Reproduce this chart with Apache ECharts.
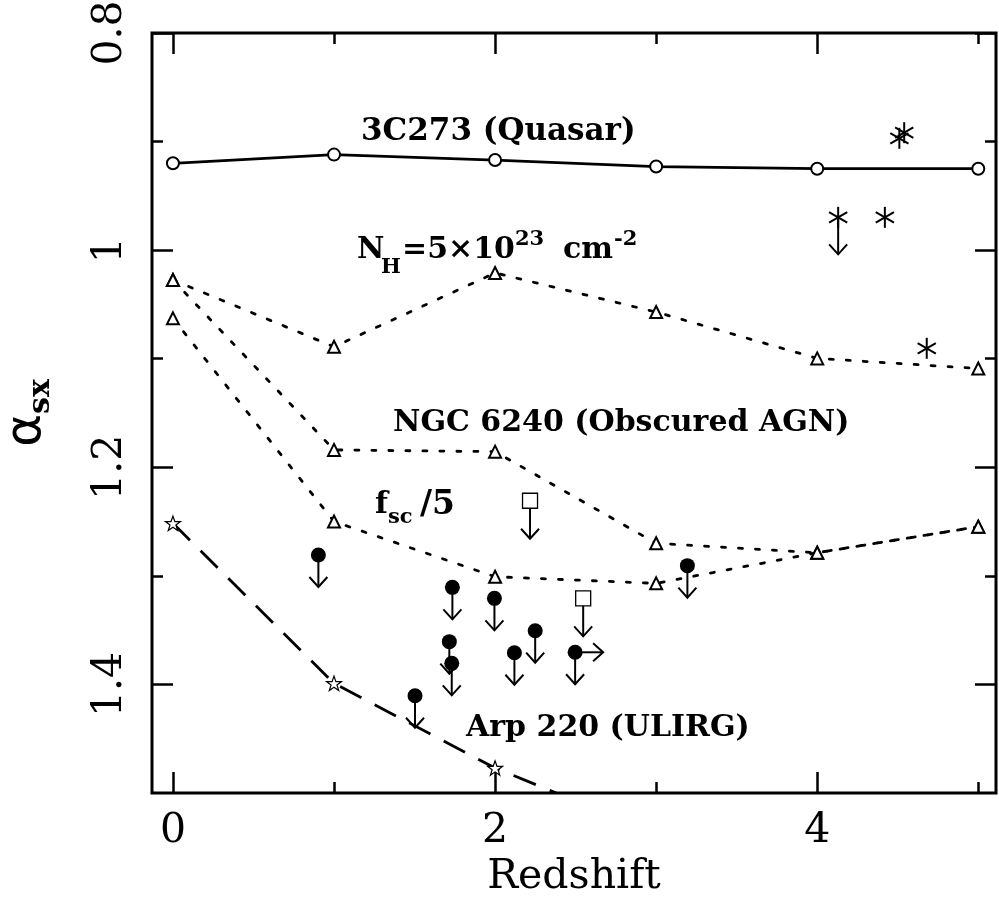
<!DOCTYPE html>
<html>
<head>
<meta charset="UTF-8">
<title>alpha_sx vs redshift</title>
<script src="https://cdn.jsdelivr.net/npm/echarts@6/dist/echarts.min.js"></script>
<style>
  html, body { margin: 0; padding: 0; background: #fff; }
  #chart { width: 999px; height: 915px; }
</style>
</head>
<body>
<div id="chart"></div>
<script type="text/javascript">
// redshift grid of the model tracks
var zGrid = [0, 1, 2, 3, 4, 5];
// model tracks (alpha_sx)
var quasar3c273 = [0.920, 0.912, 0.917, 0.923, 0.925, 0.925];
var nh5e23 = [1.0275, 1.089, 1.021, 1.057, 1.0997, 1.109];
var ngc6240 = [1.0275, 1.184, 1.1856, 1.270, 1.2787, 1.2547];
var fsc5 = [1.0628, 1.250, 1.3008, 1.3069, 1.2787, 1.2547];
var arp220Z = [0, 1, 2, 2.38];
var arp220 = [1.2516, 1.399, 1.477, 1.5];
var arp220Marked = [1, 1, 1, 0];
// filled circles, upper limits
var limZ = [0.903, 1.503, 1.735, 1.716, 1.731, 1.996, 2.12, 2.249, 2.497, 3.194];
var limA = [1.2808, 1.4104, 1.3106, 1.3606, 1.3806, 1.3207, 1.3708, 1.3505, 1.3704, 1.2906];
var limZLower = [0, 0, 0, 0, 0, 0, 0, 0, 1, 0];
// open squares, upper limits
var sqZ = [2.217, 2.547];
var sqA = [1.2308, 1.3207];
// asterisks
var astZ = [4.54, 4.51, 4.13, 4.42, 4.68];
var astA = [0.8918, 0.897, 0.9698, 0.9698, 1.0904];
var astLimit = [0, 0, 1, 0, 0];
// ticks
var xMajor = [0, 2, 4];
var xMinor = [1, 3, 5];
var yMajor = [0.8, 1, 1.2, 1.4];
var yMinor = [0.9, 1.1, 1.3];

var Z_MIN = -0.13, Z_MAX = 5.11, A_MIN = 0.8, A_MAX = 1.5;
var serif = '"DejaVu Serif", serif';
var annFont = '"DejaVu Serif", serif';

function pairs(xs, ys) {
  var out = [];
  for (var i = 0; i < xs.length; i++) out.push([xs[i], ys[i]]);
  return out;
}

function xAx(pos, ticks, len, withLabels) {
  var a = {
    type: 'value', position: pos, min: Z_MIN, max: Z_MAX,
    axisLine: { show: false, onZero: false }, splitLine: { show: false },
    axisTick: { show: true, inside: true, length: len, customValues: ticks,
      lineStyle: { color: '#000', width: 2.5 } },
    axisLabel: { show: false }
  };
  if (withLabels) {
    a.axisLabel = { show: true, customValues: ticks, margin: 18,
      fontFamily: serif, fontSize: 41, color: '#000' };
    a.name = 'Redshift';
    a.nameLocation = 'middle';
    a.nameGap = 50;
    a.nameTextStyle = { fontFamily: serif, fontSize: 41, color: '#000' };
  }
  return a;
}

function yAx(pos, ticks, len, withLabels) {
  var a = {
    type: 'value', position: pos, min: A_MIN, max: A_MAX, inverse: true,
    axisLine: { show: false, onZero: false }, splitLine: { show: false },
    axisTick: { show: true, inside: true, length: len, customValues: ticks,
      lineStyle: { color: '#000', width: 2.5 } },
    axisLabel: { show: false }
  };
  if (withLabels) {
    a.axisLabel = { show: true, customValues: ticks, rotate: 90, margin: 21,
      fontFamily: serif, fontSize: 41, color: '#000',
      formatter: function (v) { return String(+(+v).toFixed(1)); } };
    a.name = '{a|α}{s|sx}';
    a.nameLocation = 'middle';
    a.nameRotate = 90;
    a.nameGap = 100;
    a.nameMoveOverlap = false;
    a.nameTextStyle = { color: '#000', rich: {
      a: { fontFamily: '"DejaVu Sans", sans-serif', fontSize: 50, color: '#000', verticalAlign: 'bottom' },
      s: { fontFamily: '"DejaVu Serif", serif', fontWeight: 'bold', fontSize: 30, color: '#000', verticalAlign: 'bottom', padding: [0, 0, -4, 0] }
    } };
  }
  return a;
}

function track(name, ys, lineType, width) {
  return {
    name: name, type: 'line', data: pairs(zGrid, ys),
    symbol: 'emptyTriangle', symbolSize: 12,
    itemStyle: { color: '#000', borderColor: '#000', borderWidth: 1.2 },
    lineStyle: { color: '#000', width: width, type: lineType, cap: 'round' },
    z: 3
  };
}

var starPath = 'path://M12,0 L14.9,8.3 L23.4,8.3 L16.5,13.5 L19.1,21.9 L12,16.8 L4.9,21.9 L7.5,13.5 L0.6,8.3 L9.1,8.3 Z';

var arpData = [];
for (var i = 0; i < arp220Z.length; i++) {
  arpData.push(arp220Marked[i] ? [arp220Z[i], arp220[i]]
    : { value: [arp220Z[i], arp220[i]], symbol: 'none' });
}

function arrowDown(x, y0, y1, st) {
  return [
    { type: 'line', shape: { x1: x, y1: y0, x2: x, y2: y1 }, style: st },
    { type: 'polyline', shape: { points: [[x - 9, y1 - 10], [x, y1], [x + 9, y1 - 10]] }, style: st }
  ];
}

var arrowStyle = { stroke: '#000', lineWidth: 2, fill: null };

function txt(x, y, s, size) {
  return { type: 'text', x: x, y: y, z: 10,
    style: { text: s, font: 'bold ' + size + 'px ' + annFont, fill: '#000', textVerticalAlign: 'middle' } };
}

var option = {
  animation: false,
  backgroundColor: '#fff',
  grid: { left: 152, right: 3, top: 33, bottom: 122, show: true, containLabel: false,
    outerBoundsMode: 'none',
    borderColor: '#000', borderWidth: 3, backgroundColor: 'transparent' },
  xAxis: [xAx('bottom', xMajor, 21, true), xAx('bottom', xMinor, 11, false),
          xAx('top', xMajor, 21, false), xAx('top', xMinor, 11, false)],
  yAxis: [yAx('left', yMajor, 21, true), yAx('left', yMinor, 11, false),
          yAx('right', yMajor, 21, false), yAx('right', yMinor, 11, false)],
  series: [
    {
      name: '3C273', type: 'line', data: pairs(zGrid, quasar3c273),
      symbol: 'emptyCircle', symbolSize: 12,
      itemStyle: { color: '#000', borderColor: '#000', borderWidth: 1.2 },
      lineStyle: { color: '#000', width: 2.8 }, z: 3
    },
    track('NH', nh5e23, [4, 13], 2.8),
    track('NGC 6240', ngc6240, [4, 13], 2.8),
    track('fsc/5', fsc5, [4, 13], 2.8),
    {
      name: 'Arp 220', type: 'line', data: arpData,
      symbol: starPath, symbolSize: 15, symbolKeepAspect: true,
      itemStyle: { color: '#fff', borderColor: '#000', borderWidth: 1.2 },
      lineStyle: { color: '#000', width: 2.8, type: [24, 15] }, z: 3
    },
    {
      name: 'limits', type: 'custom', data: pairs(limZ, limA), z: 5,
      renderItem: function (params, api) {
        var p = api.coord([api.value(0), api.value(1)]);
        var ch = [{ type: 'circle', shape: { cx: p[0], cy: p[1], r: 7.5 }, style: { fill: '#000' } }];
        ch = ch.concat(arrowDown(p[0], p[1], p[1] + 32, arrowStyle));
        if (limZLower[params.dataIndex]) {
          var x1 = p[0] + 28;
          ch.push({ type: 'line', shape: { x1: p[0], y1: p[1], x2: x1, y2: p[1] }, style: arrowStyle });
          ch.push({ type: 'polyline', shape: { points: [[x1 - 10, p[1] - 9], [x1, p[1]], [x1 - 10, p[1] + 9]] }, style: arrowStyle });
        }
        return { type: 'group', children: ch };
      }
    },
    {
      name: 'squares', type: 'custom', data: pairs(sqZ, sqA), z: 5,
      renderItem: function (params, api) {
        var p = api.coord([api.value(0), api.value(1)]);
        var ch = [{ type: 'rect', shape: { x: p[0] - 7.5, y: p[1] - 7.5, width: 15, height: 15 },
          style: { fill: '#fff', stroke: '#000', lineWidth: 1.3 } }];
        ch = ch.concat(arrowDown(p[0], p[1] + 7.5, p[1] + 38, arrowStyle));
        return { type: 'group', children: ch };
      }
    },
    {
      name: 'asterisks', type: 'custom', data: pairs(astZ, astA), z: 5,
      renderItem: function (params, api) {
        var p = api.coord([api.value(0), api.value(1)]);
        var r = 10.5, ch = [];
        var angs = [90, 30, 150];
        for (var k = 0; k < angs.length; k++) {
          var a = angs[k] * Math.PI / 180;
          ch.push({ type: 'line', shape: { x1: p[0] - r * Math.cos(a), y1: p[1] - r * Math.sin(a),
            x2: p[0] + r * Math.cos(a), y2: p[1] + r * Math.sin(a) }, style: arrowStyle });
        }
        if (astLimit[params.dataIndex]) ch = ch.concat(arrowDown(p[0], p[1], p[1] + 37, arrowStyle));
        return { type: 'group', children: ch };
      }
    }
  ],
  graphic: [
    txt(361, 132, '3C273 (Quasar)', 31),
    txt(357, 250, 'N', 30),
    txt(381, 268, 'H', 21),
    txt(402, 250, '=5×10', 30),
    txt(515, 240, '23', 21),
    txt(563, 250, 'cm', 30),
    txt(614, 240, '-2', 21),
    txt(393, 423, 'NGC 6240 (Obscured AGN)', 30),
    txt(375, 505, 'f', 30),
    txt(388, 518, 'sc', 21),
    txt(420, 505, '/5', 33),
    txt(466, 728, 'Arp 220 (ULIRG)', 30)
  ]
};

var myChart = echarts.init(document.getElementById('chart'), null, { renderer: 'canvas' });
myChart.setOption(option);
</script>
</body>
</html>
